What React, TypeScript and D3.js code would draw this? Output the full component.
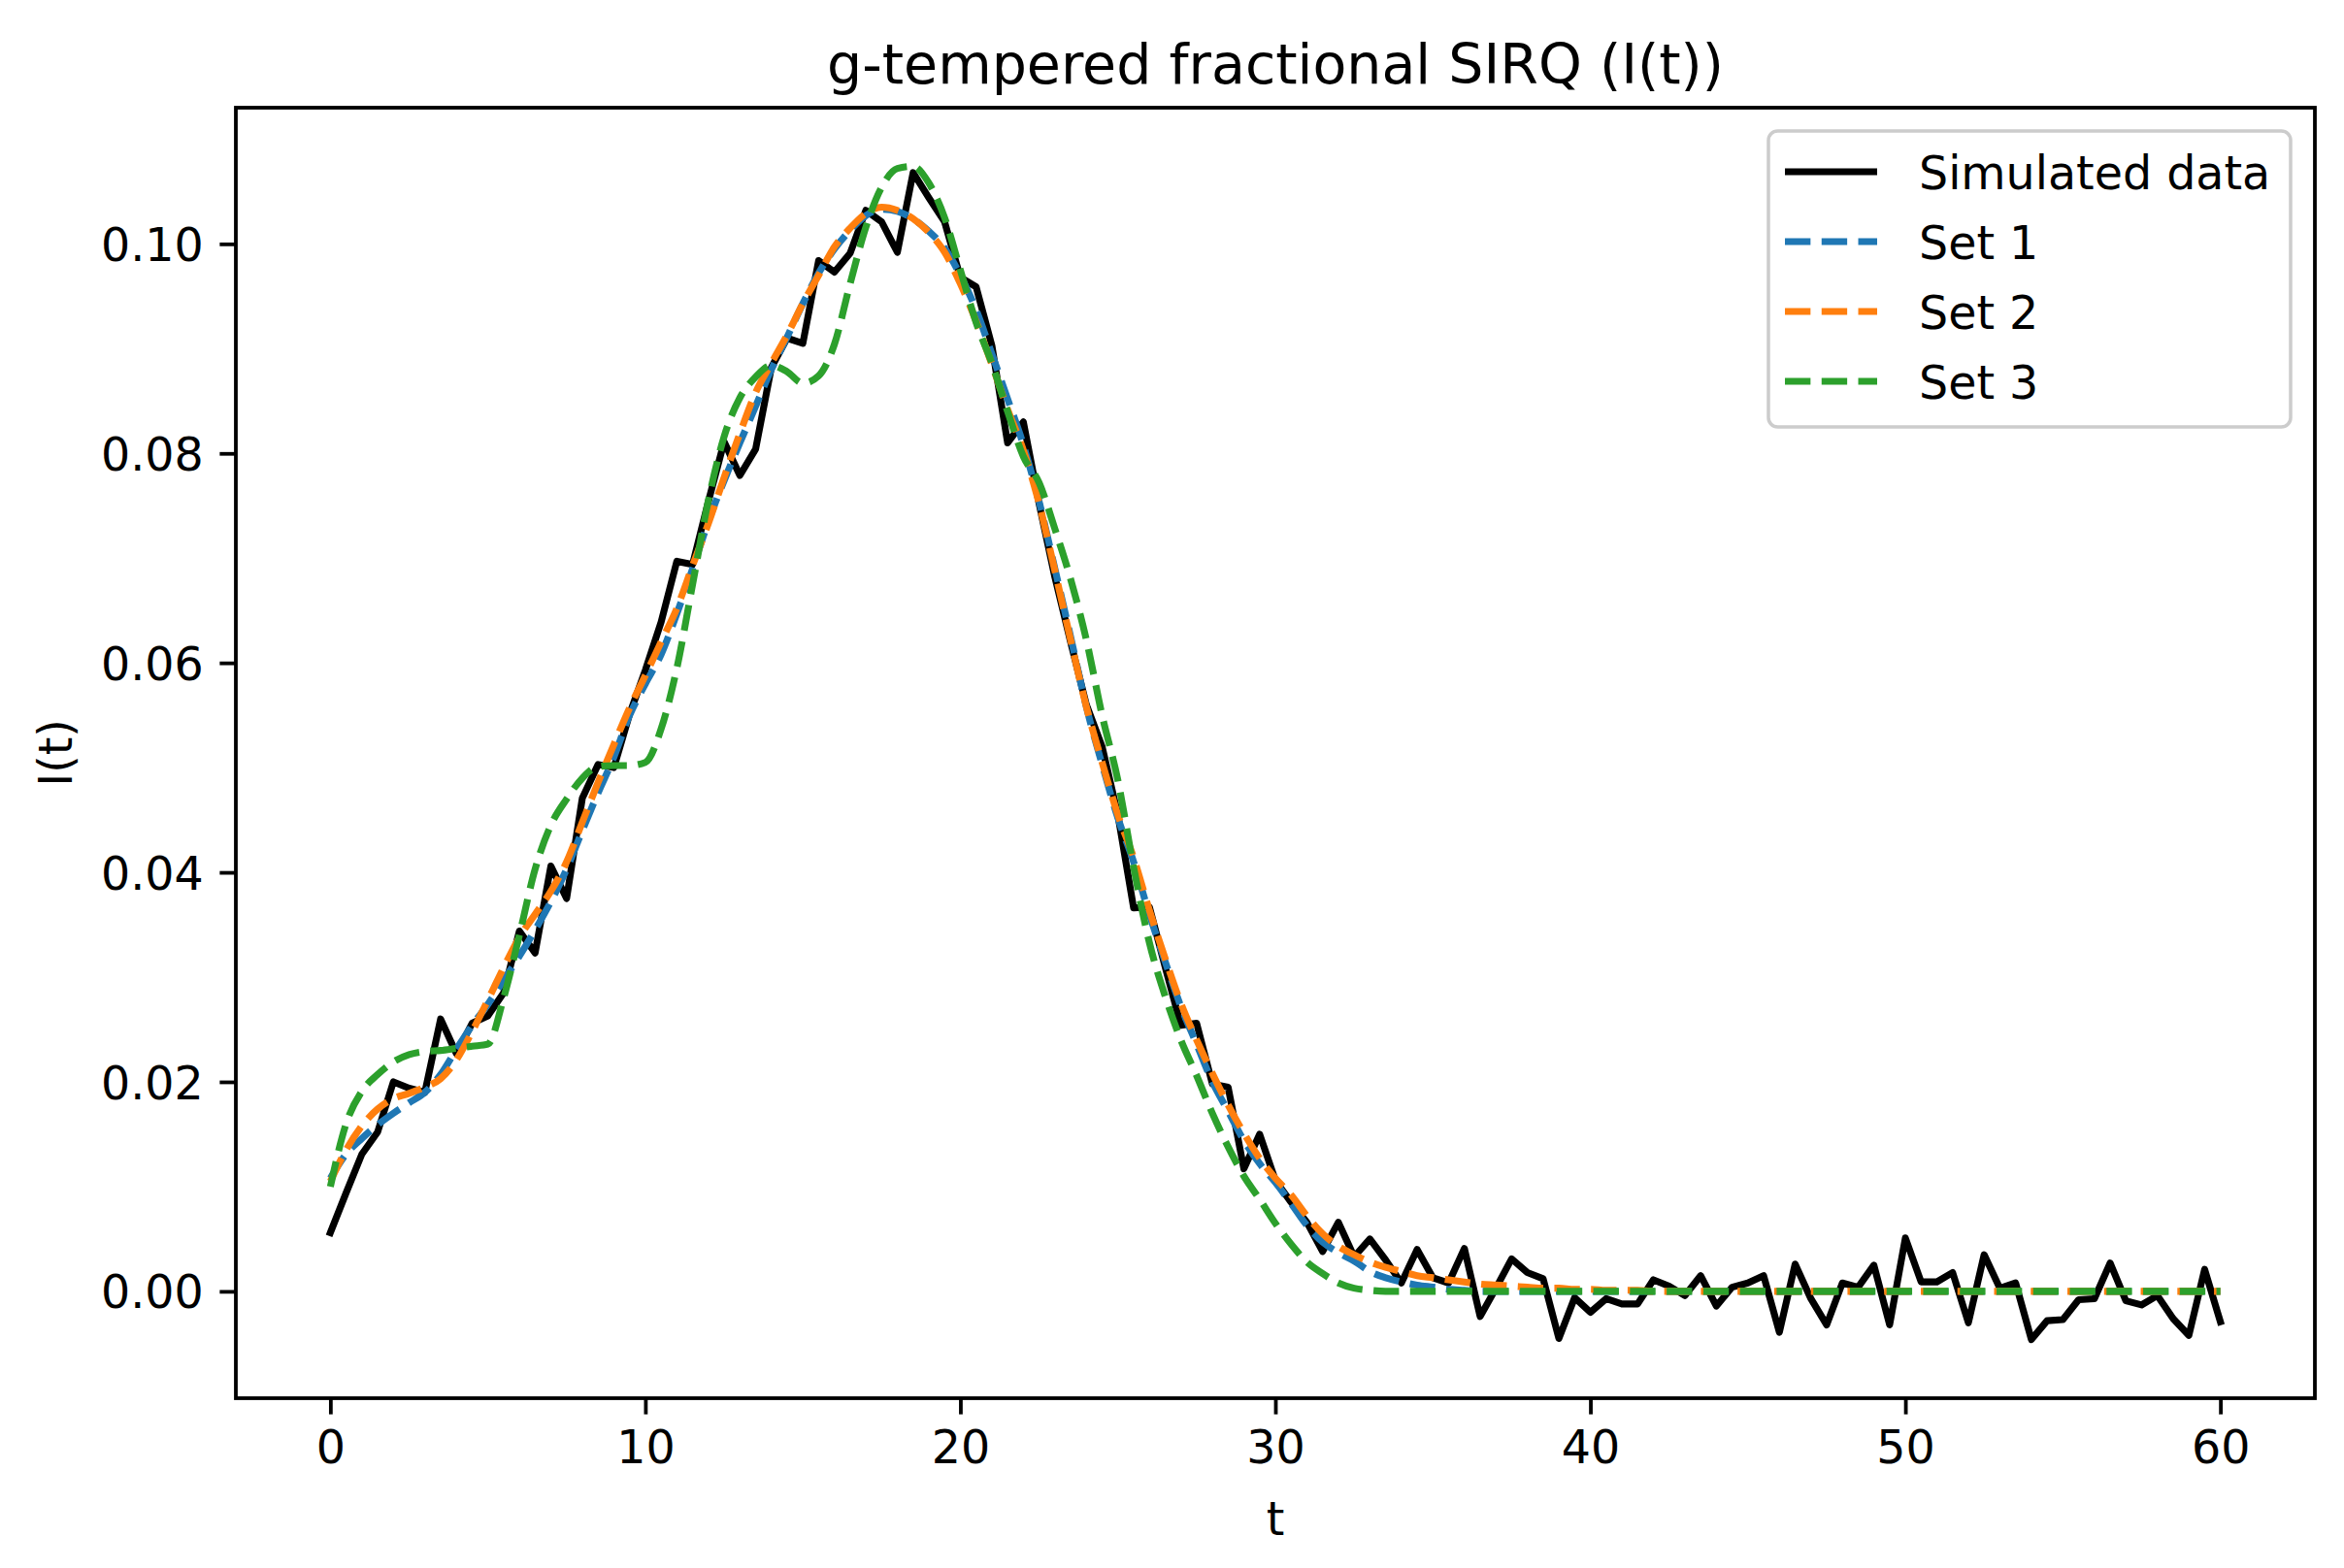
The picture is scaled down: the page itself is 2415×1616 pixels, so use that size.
import * as d3 from "d3";
import { useEffect, useRef } from "react";

// sample times (t = 0 .. 60, every 0.5)
const tGrid = [
  0, 0.5, 1, 1.5, 2, 2.5, 3, 3.5, 4, 4.5,
  5, 5.5, 6, 6.5, 7, 7.5, 8, 8.5, 9, 9.5,
  10, 10.5, 11, 11.5, 12, 12.5, 13, 13.5, 14, 14.5,
  15, 15.5, 16, 16.5, 17, 17.5, 18, 18.5, 19, 19.5,
  20, 20.5, 21, 21.5, 22, 22.5, 23, 23.5, 24, 24.5,
  25, 25.5, 26, 26.5, 27, 27.5, 28, 28.5, 29, 29.5,
  30, 30.5, 31, 31.5, 32, 32.5, 33, 33.5, 34, 34.5,
  35, 35.5, 36, 36.5, 37, 37.5, 38, 38.5, 39, 39.5,
  40, 40.5, 41, 41.5, 42, 42.5, 43, 43.5, 44, 44.5,
  45, 45.5, 46, 46.5, 47, 47.5, 48, 48.5, 49, 49.5,
  50, 50.5, 51, 51.5, 52, 52.5, 53, 53.5, 54, 54.5,
  55, 55.5, 56, 56.5, 57, 57.5, 58, 58.5, 59, 59.5,
  60,
];

const simulated = [
  0.0056, 0.0094, 0.0131, 0.0152, 0.0200, 0.0194, 0.0190, 0.0260, 0.0227, 0.0256,
  0.0263, 0.0285, 0.0344, 0.0323, 0.0406, 0.0375, 0.0471, 0.0503, 0.0500, 0.0551,
  0.0593, 0.0639, 0.0697, 0.0694, 0.0754, 0.0811, 0.0779, 0.0804, 0.0882, 0.0910,
  0.0905, 0.0984, 0.0973, 0.0991, 0.1032, 0.1021, 0.0992, 0.1068, 0.1044, 0.1021,
  0.0968, 0.0959, 0.0903, 0.0810, 0.0830, 0.0752, 0.0682, 0.0620, 0.0560, 0.0520,
  0.0455, 0.0366, 0.0367, 0.0310, 0.0254, 0.0256, 0.0198, 0.0195, 0.0117, 0.0150,
  0.0106, 0.0085, 0.0066, 0.0038, 0.0066, 0.0033, 0.0050, 0.0030, 0.0008, 0.0040,
  0.0013, 0.0008, 0.0041, -0.0024, 0.0003, 0.0031, 0.0018, 0.0012, -0.0045, -0.0006,
  -0.0020, -0.0007, -0.0012, -0.0012, 0.0011, 0.0005, -0.0004, 0.0015, -0.0014, 0.0004,
  0.0008, 0.0015, -0.0039, 0.0026, -0.0007, -0.0032, 0.0008, 0.0004, 0.0025, -0.0032,
  0.0051, 0.0009, 0.0009, 0.0018, -0.0030, 0.0035, 0.0003, 0.0008, -0.0046, -0.0028,
  -0.0027, -0.0008, -0.0007, 0.0027, -0.0009, -0.0013, -0.0004, -0.0026, -0.0042, 0.0021,
  -0.0029,
];

const set1 = [
  0.0108, 0.0131, 0.0146, 0.0159, 0.0170, 0.0180, 0.0190, 0.0207, 0.0231, 0.0254,
  0.0274, 0.0297, 0.0320, 0.0345, 0.0372, 0.0403, 0.0440, 0.0476, 0.0510, 0.0550,
  0.0580, 0.0608, 0.0647, 0.0690, 0.0735, 0.0774, 0.0810, 0.0845, 0.0880, 0.0911,
  0.0943, 0.0972, 0.0995, 0.1013, 0.1027, 0.1033, 0.1031, 0.1024, 0.1012, 0.0996,
  0.0970, 0.0937, 0.0895, 0.0852, 0.0808, 0.0754, 0.0690, 0.0625, 0.0558, 0.0503,
  0.0452, 0.0410, 0.0360, 0.0315, 0.0272, 0.0236, 0.0200, 0.0172, 0.0144, 0.0122,
  0.0104, 0.0084, 0.0063, 0.0047, 0.0037, 0.0029, 0.0019, 0.0013, 0.0009, 0.0006,
  0.0004, 0.0002, 0.0001, 0, 0, 0, 0, 0, 0, 0,
  0, 0, 0, 0, 0, 0, 0, 0, 0, 0,
  0, 0, 0, 0, 0, 0, 0, 0, 0, 0,
  0, 0, 0, 0, 0, 0, 0, 0, 0, 0,
  0, 0, 0, 0, 0, 0, 0, 0, 0, 0,
  0,
];

const set2 = [
  0.0105, 0.0135, 0.0158, 0.0174, 0.0184, 0.0189, 0.0195, 0.0203, 0.0221, 0.0248,
  0.0278, 0.0309, 0.0338, 0.0360, 0.0382, 0.0410, 0.0448, 0.0486, 0.0522, 0.0557,
  0.0588, 0.0620, 0.0652, 0.0693, 0.0733, 0.0777, 0.0819, 0.0858, 0.0886, 0.0913,
  0.0943, 0.0970, 0.0997, 0.1015, 0.1029, 0.1035, 0.1032, 0.1024, 0.1011, 0.0992,
  0.0962, 0.0926, 0.0885, 0.0842, 0.0803, 0.0752, 0.0688, 0.0622, 0.0558, 0.0505,
  0.0455, 0.0414, 0.0364, 0.0318, 0.0275, 0.0240, 0.0208, 0.0178, 0.0151, 0.0127,
  0.0108, 0.0092, 0.0072, 0.0055, 0.0043, 0.0035, 0.0028, 0.0023, 0.0019, 0.0015,
  0.0013, 0.0011, 0.0009, 0.0007, 0.0006, 0.0005, 0.0004, 0.0003, 0.0003, 0.0002,
  0.0002, 0.0001, 0.0001, 0.0001, 0, 0, 0, 0, 0, 0,
  0, 0, 0, 0, 0, 0, 0, 0, 0, 0,
  0, 0, 0, 0, 0, 0, 0, 0, 0, 0,
  0, 0, 0, 0, 0, 0, 0, 0, 0, 0,
  0,
];

const set3 = [
  0.0100, 0.0160, 0.0191, 0.0207, 0.0219, 0.0226, 0.0229, 0.0230, 0.0232, 0.0234,
  0.0236, 0.0280, 0.0340, 0.0403, 0.0445, 0.0470, 0.0490, 0.0501, 0.0502, 0.0502,
  0.0505, 0.0537, 0.0595, 0.0675, 0.0755, 0.0816, 0.0853, 0.0873, 0.0884, 0.0878,
  0.0867, 0.0874, 0.0904, 0.0962, 0.1016, 0.1054, 0.1072, 0.1074, 0.1058, 0.1025,
  0.0975, 0.0925, 0.0886, 0.0840, 0.0797, 0.0772, 0.0728, 0.0680, 0.0622, 0.0550,
  0.0488, 0.0405, 0.0333, 0.0282, 0.0240, 0.0206, 0.0170, 0.0138, 0.0110, 0.0088,
  0.0065, 0.0045, 0.0028, 0.0017, 0.0008, 0.0003, 0.0001, 0, 0, 0,
  0, 0, 0, 0, 0, 0, 0, 0, 0, 0,
  0, 0, 0, 0, 0, 0, 0, 0, 0, 0,
  0, 0, 0, 0, 0, 0, 0, 0, 0, 0,
  0, 0, 0, 0, 0, 0, 0, 0, 0, 0,
  0, 0, 0, 0, 0, 0, 0, 0, 0, 0,
  0,
];

const seriesNames = ["Simulated data", "Set 1", "Set 2", "Set 3"];
const seriesColors = ["#000000", "#1f77b4", "#ff7f0e", "#2ca02c"];
const xTicks = [0, 10, 20, 30, 40, 50, 60];
const yTicks = [0, 0.02, 0.04, 0.06, 0.08, 0.1];

export default function App() {
  const ref = useRef<SVGSVGElement>(null);

  useEffect(() => {
    const width = 2415;
    const height = 1616;
    const box = { left: 243, right: 2385, top: 111, bottom: 1441 };
    const fs = 47.5; // 10pt at this resolution
    const lw = fs * 0.15;
    const spineW = fs * 0.08;
    const tickLen = fs * 0.35;

    const svg = d3.select(ref.current);
    svg.selectAll("*").remove();
    svg
      .attr("width", width)
      .attr("height", height)
      .attr("font-family", "DejaVu Sans, sans-serif");

    svg.append("rect").attr("width", width).attr("height", height).attr("fill", "#ffffff");

    // matplotlib-style 5% margins
    const [t0, t1] = d3.extent(tGrid) as [number, number];
    const tPad = (t1 - t0) * 0.05;
    const x = d3.scaleLinear().domain([t0 - tPad, t1 + tPad]).range([box.left, box.right]);

    const allVals = [...simulated, ...set1, ...set2, ...set3];
    const lo = d3.min(allVals)!;
    const hi = d3.max(allVals)!;
    const vPad = (hi - lo) * 0.05;
    const y = d3.scaleLinear().domain([lo - vPad, hi + vPad]).range([box.bottom, box.top]);

    svg
      .append("clipPath")
      .attr("id", "plot-clip")
      .append("rect")
      .attr("x", box.left)
      .attr("y", box.top)
      .attr("width", box.right - box.left)
      .attr("height", box.bottom - box.top);

    const plot = svg.append("g").attr("clip-path", "url(#plot-clip)");

    /* ---------------- LINES ---------------- */
    const series = [simulated, set1, set2, set3];
    series.forEach((vals, i) => {
      const line = d3
        .line<number>()
        .x((_, j) => x(tGrid[j]))
        .y(d => y(d))
        .curve(i === 0 ? d3.curveLinear : d3.curveMonotoneX);

      plot
        .append("path")
        .attr("d", line(vals))
        .attr("fill", "none")
        .attr("stroke", seriesColors[i])
        .attr("stroke-width", lw)
        .attr("stroke-linejoin", "round")
        .attr("stroke-linecap", i === 0 ? "square" : "butt")
        .attr("stroke-dasharray", i === 0 ? null : `${lw * 3.7} ${lw * 1.6}`);
    });

    /* ---------------- AXES ---------------- */
    const xAxis = svg
      .append("g")
      .attr("transform", `translate(0, ${box.bottom})`)
      .call(
        d3.axisBottom(x)
          .tickValues(xTicks)
          .tickFormat(d3.format("d"))
          .tickSize(tickLen)
          .tickSizeOuter(0)
          .tickPadding(tickLen)
      );

    const yAxis = svg
      .append("g")
      .attr("transform", `translate(${box.left}, 0)`)
      .call(
        d3.axisLeft(y)
          .tickValues(yTicks)
          .tickFormat(d3.format(".2f"))
          .tickSize(tickLen)
          .tickSizeOuter(0)
          .tickPadding(tickLen)
      );

    [xAxis, yAxis].forEach(ax => {
      ax.select(".domain").remove();
      ax.selectAll(".tick line").attr("stroke", "#000").attr("stroke-width", spineW);
      ax.selectAll(".tick text")
        .attr("fill", "#000")
        .attr("font-size", fs)
        .attr("font-family", "DejaVu Sans, sans-serif");
    });
    yAxis.selectAll(".tick text").attr("dy", "0.36em");

    svg
      .append("rect")
      .attr("x", box.left)
      .attr("y", box.top)
      .attr("width", box.right - box.left)
      .attr("height", box.bottom - box.top)
      .attr("fill", "none")
      .attr("stroke", "#000")
      .attr("stroke-width", spineW);

    /* ---------------- LABELS ---------------- */
    svg
      .append("text")
      .attr("x", (box.left + box.right) / 2)
      .attr("y", 86)
      .attr("text-anchor", "middle")
      .attr("font-size", fs * 1.2)
      .attr("fill", "#000")
      .text("g-tempered fractional SIRQ (I(t))");

    svg
      .append("text")
      .attr("x", (box.left + box.right) / 2)
      .attr("y", 1582)
      .attr("text-anchor", "middle")
      .attr("font-size", fs)
      .attr("fill", "#000")
      .text("t");

    svg
      .append("text")
      .attr("transform", `translate(74, ${(box.top + box.bottom) / 2}) rotate(-90)`)
      .attr("text-anchor", "middle")
      .attr("font-size", fs)
      .attr("fill", "#000")
      .text("I(t)");

    /* ---------------- LEGEND ---------------- */
    const lg = { left: 1822, top: 135, width: 538, height: 305 };
    const legend = svg.append("g");
    legend
      .append("rect")
      .attr("x", lg.left)
      .attr("y", lg.top)
      .attr("width", lg.width)
      .attr("height", lg.height)
      .attr("rx", fs * 0.2)
      .attr("fill", "#ffffff")
      .attr("fill-opacity", 0.8)
      .attr("stroke", "#cccccc")
      .attr("stroke-width", 3.5);

    const rowY = d3.scaleLinear().domain([0, 3]).range([177, 393]);
    const handleX0 = lg.left + 17;
    const handleX1 = handleX0 + fs * 2;

    seriesNames.forEach((name, i) => {
      const cy = rowY(i);
      legend
        .append("line")
        .attr("x1", handleX0)
        .attr("x2", handleX1)
        .attr("y1", cy)
        .attr("y2", cy)
        .attr("stroke", seriesColors[i])
        .attr("stroke-width", lw)
        .attr("stroke-linecap", "butt")
        .attr("stroke-dasharray", i === 0 ? null : `${lw * 3.7} ${lw * 1.6}`);

      legend
        .append("text")
        .attr("x", handleX1 + fs * 0.8 + 5)
        .attr("y", cy + 18)
        .attr("font-size", fs)
        .attr("fill", "#000")
        .text(name);
    });
  }, []);

  return <svg ref={ref} style={{ position: "absolute", left: 0, top: 0 }} />;
}
